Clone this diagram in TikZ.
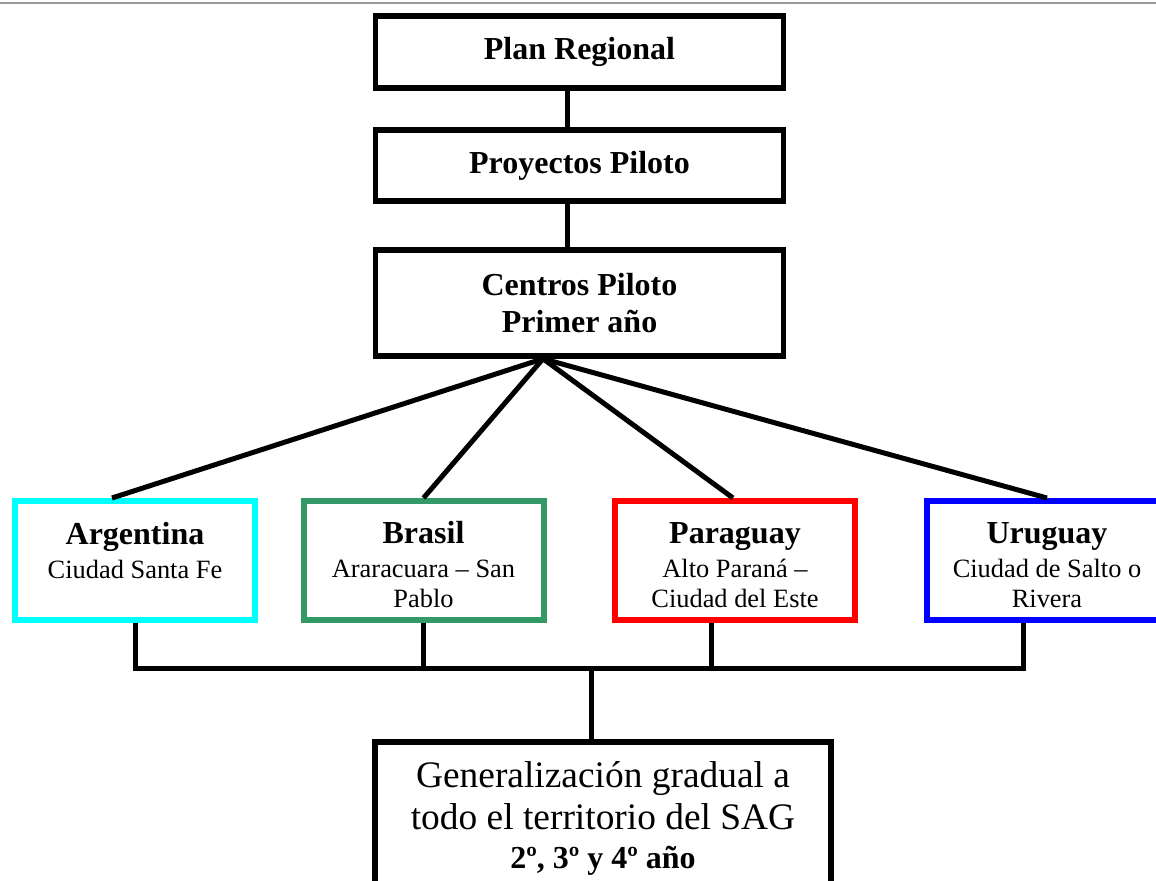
\documentclass[tikz,border=0pt]{standalone}
\usepackage{fontspec}
\setmainfont{Liberation Serif}
\usetikzlibrary{positioning}
\definecolor{argcyan}{RGB}{0,255,255}
\definecolor{bragreen}{RGB}{51,153,102}
\definecolor{parred}{RGB}{255,0,0}
\definecolor{urublue}{RGB}{0,0,255}
\tikzset{
    block/.style = {draw, rectangle, line width=2.75pt,
        minimum width=204pt, inner sep=0pt, align=center,
        font=\fontsize{16}{18.5}\selectfont\bfseries},
    country/.style = {draw, rectangle, line width=3pt,
        minimum width=120pt, minimum height=59.5pt, inner sep=0pt, align=center,
        font=\fontsize{13.2}{15}\selectfont},
    line/.style = {draw, line width=2.5pt}
}
\newcommand{\pais}[1]{\rule{0pt}{15.5pt}\textbf{\fontsize{16}{18}\selectfont #1}}

\begin{document}
\begin{tikzpicture}[x=0.5pt, y=-0.5pt]
        \clip (0,0) rectangle (1156,881);
        \draw [black!40, line width=1.2pt] (0,2.8) -- (1156,2.8);
        % upper chain
        \node [block, minimum height=36pt, name=plan] at (579.5,52) {Plan Regional};
        \node [block, below of=plan, node distance=56.75pt, minimum height=35.5pt, name=proy] {Proyectos Piloto};
        \node [block, below of=proy, node distance=68.75pt, minimum height=53pt, name=centros] {Centros Piloto\\Primer año};
        \draw [line] ([xshift=-6.25pt]plan.south) -- ([xshift=-6.25pt]proy.north);
        \draw [line] ([xshift=-6.25pt]proy.south) -- ([xshift=-6.25pt]centros.north);
        % pilot countries
        \node [country, draw=argcyan, name=arg] at (135,560.5) {\pais{Argentina}\\[2pt]Ciudad Santa Fe\\ \mbox{}};
        \node [country, draw=bragreen, right of=arg, node distance=144.25pt, name=bra] {\pais{Brasil}\\[2pt]Araracuara – San\\Pablo};
        \node [country, draw=parred, right of=bra, node distance=155.75pt, name=par] {\pais{Paraguay}\\[2pt]Alto Paraná –\\Ciudad del Este};
        \node [country, draw=urublue, right of=par, node distance=156pt, name=uru] {\pais{Uruguay}\\[2pt]Ciudad de Salto o\\Rivera};
        \coordinate (fan) at ([xshift=-18.25pt]centros.south);
        \foreach \c/\s in {arg/-11.5pt, bra/0pt, par/-1pt, uru/0pt}{
            \draw [line] (fan) -- ([xshift=\s]\c.north);
        }
        % gathering bus
        \node [block, font=\fontsize{18.7}{21}\selectfont, minimum width=228pt, minimum height=76pt, name=gen] at (603,818)
            {Generalización gradual a\\todo el territorio del SAG\\[-1.5pt]{\bfseries\fontsize{16}{19}\selectfont 2º, 3º y 4º año}};
        \coordinate (bus) at (591,668);
        \coordinate (pardrop) at ([xshift=-12pt]par.south);
        \coordinate (urudrop) at ([xshift=-12pt]uru.south);
        \draw [line] (arg.south) |- (urudrop |- bus) -- (urudrop);
        \draw [line] (bra.south) -- (bra.south |- bus);
        \draw [line] (pardrop) -- (pardrop |- bus);
        \draw [line] (bus) -- (bus |- gen.north);
\end{tikzpicture}
\end{document}
